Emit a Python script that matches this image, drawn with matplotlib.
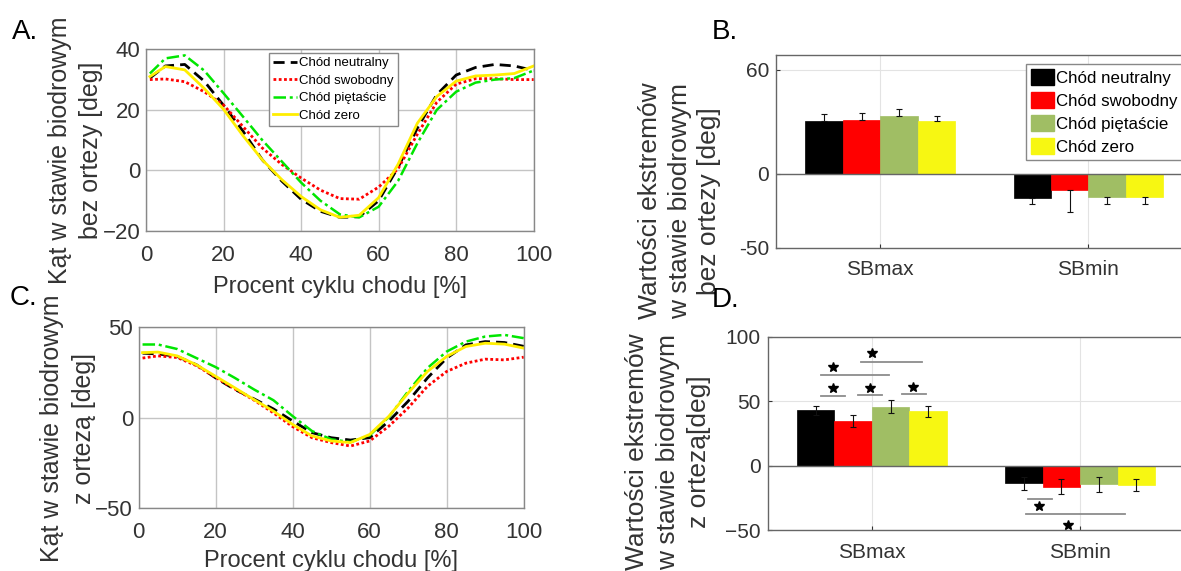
import numpy as np
import matplotlib
matplotlib.use("Agg")
import matplotlib.pyplot as plt
from matplotlib.patches import Patch

plt.rcParams['font.family'] = ['Liberation Sans', 'DejaVu Sans']

# ---------------- data ----------------
series_names = ["Chód neutralny", "Chód swobodny", "Chód piętaście", "Chód zero"]
gait_pct = [1, 5, 10, 15, 20, 25, 30, 35, 40, 45, 50, 55, 60, 65, 70, 75, 80, 85, 90, 95, 100]

# Panel A: hip angle without orthosis
a_neutral = [30.5, 34.5, 35, 29.5, 21.5, 13, 3.5, -3.5, -9.5, -13.5, -15.5, -15.3, -10, 1, 14, 25, 31.5, 34, 35, 34.5, 33]
a_free    = [30, 30.2, 29.3, 26, 21.6, 14.5, 7.4, 2, -2.5, -6.5, -9.3, -9.5, -5.5, 0.5, 12, 22.5, 28.5, 30.3, 30.3, 30, 30]
a_heel    = [32, 37, 38, 33, 25.5, 17.8, 10, 3, -4, -10, -14.5, -15.5, -12, -3.5, 9, 20, 26, 29, 30, 30.5, 33]
a_zero    = [31, 34.3, 33.2, 27.1, 20.2, 11.5, 3.5, -3, -8.6, -13, -15.5, -14.8, -9, 2, 15.6, 24.4, 29.5, 31.2, 31.5, 32, 34.5]

# Panel C: hip angle with orthosis
c_neutral = [35.7, 35.3, 33.9, 29.3, 22, 15.6, 10.4, 4.9, -1.8, -8.2, -11, -12.3, -11, -1.8, 9.2, 22, 33, 40.3, 42.1, 41.6, 39.5]
c_free    = [33, 34.2, 33.3, 28.8, 22.3, 15.9, 9.7, 2.7, -4.9, -11, -13.7, -15.6, -12.8, -4.6, 5.5, 17.4, 25.6, 30.2, 32.4, 32, 33.5]
c_heel    = [40.5, 40.5, 38, 33, 28, 22, 15.6, 9.7, 0.9, -7.3, -11.9, -13.4, -9.7, 0.5, 14.7, 27.5, 36.6, 42.1, 44.9, 45.8, 44]
c_zero    = [36, 36.3, 34.2, 29.3, 22.9, 16.5, 10, 3.7, -3.7, -10, -12.8, -13.7, -9.2, 0.9, 13.7, 25.6, 33.9, 39.4, 41.2, 40.7, 38.5]

bar_categories = ["SBmax", "SBmin"]
# Panel B: extreme values without orthosis (mean, sd) per gait
b_means = [[35.7, -16.1], [36.1, -10.7], [38.6, -15.6], [35.2, -15.6]]
b_errs  = [[4.5, 4.0], [4.5, 15.4], [4.9, 4.9], [3.6, 5.0]]
# Panel D: extreme values with orthosis
d_means = [[42.9, -13.7], [34.6, -16.2], [45.7, -14.5], [42.1, -15.0]]
d_errs  = [[3.3, 5.0], [4.9, 6.0], [4.9, 5.9], [4.3, 4.9]]

# significance markers in panel D
sig_lines = [(0.754, 0.871, 54.0), (0.933, 1.05, 54.8), (1.144, 1.259, 55.5),
             (0.754, 1.081, 70.5), (0.949, 1.24, 80.6),
             (1.748, 1.864, -26.0), (1.74, 2.217, -37.4)]
sig_stars_x = [0.812, 0.99, 1.195, 0.813, 1.002, 1.802, 1.942]
sig_stars_y = [60.4, 60.4, 61.1, 76.7, 87.0, -31.0, -46.0]

b_yticks = [-50, 0, 70]
b_yticklabels = ["-50", "0", "60"]

# ---------------- styling ----------------
line_colors = ["#000000", "#FF0000", "#00E600", "#FFEE00"]
line_styles = [(0, (4, 2.2)), (0, (1, 0.9)), (0, (5, 1.5, 1.2, 1.5)), "-"]
line_widths = [2.0, 2.0, 1.8, 2.0]
bar_colors = ["#000000", "#FF0000", "#A0BE64", "#F7F712"]
TXT = "#333333"

W, H = 1181, 571
fig = plt.figure(figsize=(W / 100, H / 100), dpi=100)


def px_axes(left, right, top, bottom):
    return fig.add_axes([left / W, 1 - bottom / H, (right - left) / W, (bottom - top) / H])


def style_line_axes(ax, ylim, yticks, fs):
    ax.set_xlim(0, 100)
    ax.set_ylim(*ylim)
    ax.set_xticks([0, 20, 40, 60, 80, 100])
    ax.set_yticks(yticks)
    ax.grid(True, color="#c4c4c4", lw=1.0)
    ax.set_axisbelow(True)
    for s in ax.spines.values():
        s.set_color("#888888")
        s.set_linewidth(1.0)
    ax.tick_params(direction="in", length=0, labelsize=fs, colors=TXT, pad=4)
    ax.tick_params(axis="x", pad=10)


# ---- Panel A ----
axA = px_axes(146, 533.7, 49.3, 231)
style_line_axes(axA, (-20, 40), [-20, 0, 20, 40], 16)
for data, c, ls, lw, nm in zip([a_neutral, a_free, a_heel, a_zero], line_colors, line_styles, line_widths, series_names):
    axA.plot(gait_pct, data, color=c, ls=ls, lw=lw, label=nm)
axA.set_xlabel("Procent cyklu chodu [%]", fontsize=17, color=TXT, labelpad=7)
legA = axA.legend(loc="upper left", bbox_to_anchor=(269 / W, 1 - 53 / H), bbox_transform=fig.transFigure,
                  fontsize=9.5, frameon=True, fancybox=False, edgecolor="#888888", framealpha=1,
                  borderpad=0.3, labelspacing=0.4, handlelength=1.8, handletextpad=0.2, borderaxespad=0)
legA.get_frame().set_linewidth(1.0)

# ---- Panel C ----
axC = px_axes(138.7, 523.7, 327.3, 508.3)
style_line_axes(axC, (-50, 50), [-50, 0, 50], 16)
for data, c, ls, lw in zip([c_neutral, c_free, c_heel, c_zero], line_colors, line_styles, line_widths):
    axC.plot(gait_pct, data, color=c, ls=ls, lw=lw)
axC.set_xlabel("Procent cyklu chodu [%]", fontsize=17, color=TXT, labelpad=5)


def bar_panel(ax, means, errs, ylim, yticks, yticklabels=None, one_sided=False):
    x = np.arange(1, len(bar_categories) + 1)
    w = 0.18
    for i, (m, e, c) in enumerate(zip(means, errs, bar_colors)):
        xi = x + (i - 1.5) * w
        m = np.asarray(m, float)
        e = np.asarray(e, float)
        ax.bar(xi, m, width=w, color=c, edgecolor=c, linewidth=0.5, zorder=2, label=series_names[i])
        if one_sided:
            lower = np.where(m < 0, e, 0.0)
            upper = np.where(m >= 0, e, 0.0)
            yerr = [lower, upper]
        else:
            yerr = e
        ax.errorbar(xi, m, yerr=yerr, fmt="none", ecolor="#111111", elinewidth=0.8, capsize=2.5,
                    capthick=0.8, zorder=3)
    ax.axhline(0, color="#666666", lw=1.0, zorder=2.5)
    ax.set_xlim(0.5, 2.5)
    ax.set_ylim(*ylim)
    ax.set_xticks(x, bar_categories)
    if yticklabels is None:
        ax.set_yticks(yticks)
    else:
        ax.set_yticks(yticks, yticklabels)
    ax.grid(True, color="#e3e3e3", lw=0.8)
    ax.set_axisbelow(True)
    for s in ax.spines.values():
        s.set_color("#666666")
        s.set_linewidth(1.0)
    ax.tick_params(direction="in", length=3, labelsize=15, colors=TXT, pad=5)
    ax.tick_params(axis="x", pad=9)


# ---- Panel B ----
axB = px_axes(776.3, 1192.5, 54.7, 248)
bar_panel(axB, b_means, b_errs, (-50, 80), b_yticks, b_yticklabels, one_sided=True)
handles = [Patch(facecolor=c, edgecolor=c) for c in bar_colors]
legB = axB.legend(handles, series_names, loc="upper left", bbox_to_anchor=(1026 / W, 1 - 64 / H),
                  bbox_transform=fig.transFigure, fontsize=12.2, frameon=True, fancybox=False,
                  edgecolor="#888888", framealpha=1, borderpad=0.3, labelspacing=0.38,
                  handlelength=1.35, handleheight=1.05, handletextpad=0.15, borderaxespad=0)
legB.get_frame().set_linewidth(1.0)

# ---- Panel D ----
axD = px_axes(767.7, 1184.4, 336.7, 530.3)
bar_panel(axD, d_means, d_errs, (-50, 100), [-50, 0, 50, 100])
for x1, x2, y in sig_lines:
    axD.plot([x1, x2], [y, y], color="#8c8c8c", lw=1.3, zorder=4)
axD.plot(sig_stars_x, sig_stars_y, ls="none", marker="*", ms=7, color="black", zorder=5)

# ---- y labels (one text per line) ----
def vlabel(lines, xs, yc, fs):
    for txt, xp in zip(lines, xs):
        fig.text(xp / W, 1 - yc / H, txt, rotation=90, ha="center", va="center", fontsize=fs, color=TXT)


vlabel(["Kąt w stawie biodrowym", "bez ortezy [deg]"], [60, 91], 150, 18)
vlabel(["Kąt w stawie biodrowym", "z ortezą [deg]"], [52, 84], 428, 18)
vlabel(["Wartości ekstremów", "w stawie biodrowym", "bez ortezy [deg]"], [650, 680, 709], 201, 19)
vlabel(["Wartości ekstremów", "w stawie biodrowym", "z ortezą[deg]"], [637, 668, 699], 452, 19)

# ---- panel letters ----
for lab, xp, yp in [("A.", 12, 32), ("B.", 712, 32), ("C.", 10, 298), ("D.", 712, 300)]:
    fig.text(xp / W, 1 - yp / H, lab, ha="left", va="center", fontsize=20, color="black")

fig.savefig("out.png", dpi=100)
